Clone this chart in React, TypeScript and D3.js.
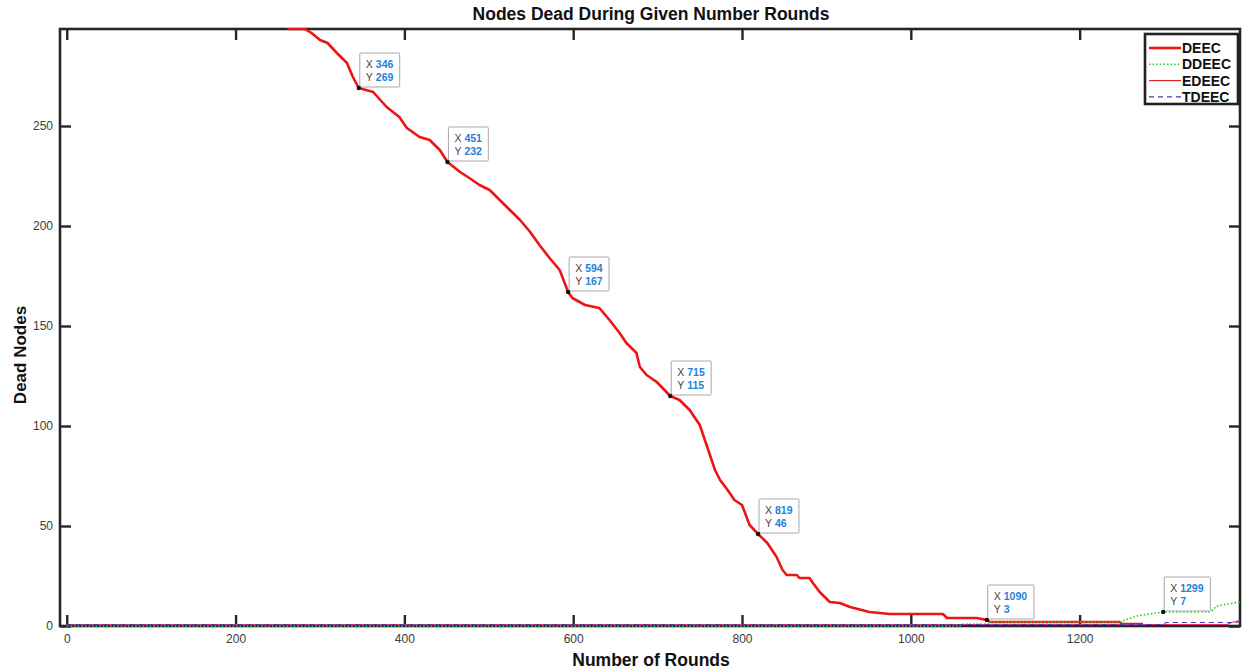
import * as d3 from 'd3';
import React, { useRef, useEffect } from 'react';

// DEEC curve as [round, dead nodes]
const deecRounds = [0, 262, 263, 282, 290, 300, 309, 320, 332, 339, 346, 363, 379, 394, 403, 418, 430, 442, 451, 466, 477, 489, 501, 513, 525, 537, 549, 560, 572, 584, 594, 599, 614, 631, 643, 655, 663, 675, 679, 687, 699, 715, 726, 738, 750, 756, 762, 768, 774, 783, 791, 800, 809, 819, 830, 841, 848, 853, 865, 868, 880, 884, 892, 904, 916, 928, 951, 975, 1038, 1043, 1078, 1090, 1094, 1248, 1250, 1275];
const deecValues = [300, 300, 298.5, 298.5, 296.5, 293, 291.5, 286.5, 281.5, 274.5, 269, 267, 259.5, 254.5, 249, 244.5, 243, 238, 232, 227, 224, 220.5, 218, 213, 208, 203, 197, 190.5, 184, 178, 167, 164, 160.5, 159, 153, 146.5, 141.5, 136.5, 129.5, 125.5, 122, 115, 113, 108, 100.5, 93, 85.5, 78, 73, 68, 63, 60.5, 50.5, 46, 41.5, 34.5, 28, 25.5, 25.5, 24, 24, 21.5, 17, 12, 11.5, 9.5, 7, 6, 6, 4, 4, 3, 2, 2, 1, 1];

const ddeecRounds = [0, 1058, 1060, 1092, 1094, 1248, 1254, 1261, 1268, 1283, 1299, 1354, 1358, 1362, 1375, 1390];
const ddeecValues = [0, 0, 1, 1, 2, 2, 3, 4, 5, 6, 7, 7, 8, 10, 11, 12];

const edeecRounds = [0, 1375, 1380, 1390];
const edeecValues = [0, 0, 1, 2];

const tdeecRounds = [0, 1300, 1302, 1386, 1390];
const tdeecValues = [0, 0, 1, 1, 2];

const tipRounds = [346, 451, 594, 715, 819, 1090, 1299];
const tipValues = [269, 232, 167, 115, 46, 3, 7];

const xTicks = [0, 200, 400, 600, 800, 1000, 1200];
const yTicks = [0, 50, 100, 150, 200, 250];

const seriesNames = ['DEEC', 'DDEEC', 'EDEEC', 'TDEEC'];

const W = 1243, H = 670;
const left = 60, right = 1240, top = 29, bottom = 626;
const font = '"Liberation Sans", Arial, sans-serif';

const styles = [
    { color: '#ee1414', width: 2.6, dash: null },
    { color: '#2fd12f', width: 1.6, dash: '1.6,2' },
    { color: '#e0306a', width: 1.1, dash: null },
    { color: '#4a3ab8', width: 1.1, dash: '5,4' },
];

function App() {
    const ref = useRef(null);

    useEffect(() => {
        const svg = d3.select(ref.current);
        svg.selectAll('*').remove();

        const x = d3.scaleLinear().domain([-8, 1390]).range([left, right]);
        const y = d3.scaleLinear().domain([0, 298.5]).range([bottom, top]);

        svg.append('rect').attr('width', W).attr('height', H).attr('fill', '#fff');

        svg.append('defs').append('clipPath').attr('id', 'plotclip')
            .append('rect')
            .attr('x', left).attr('y', top - 1)
            .attr('width', right - left).attr('height', bottom - top + 2);

        // axes, MATLAB style ticks pointing in
        const styleAxis = (g) => {
            g.select('.domain').remove();
            g.selectAll('.tick line').attr('stroke', '#262626').attr('stroke-width', 2.4);
            g.selectAll('.tick text').attr('fill', '#3a3a3a').style('font-size', '12px').style('font-family', font);
        };

        svg.append('g').attr('transform', `translate(0,${bottom})`)
            .call(d3.axisBottom(x).tickValues(xTicks).tickSizeInner(-11).tickSizeOuter(0).tickPadding(8).tickFormat(d3.format('d')))
            .call(styleAxis);
        svg.append('g').attr('transform', `translate(0,${top})`)
            .call(d3.axisTop(x).tickValues(xTicks).tickSizeInner(-11).tickSizeOuter(0).tickFormat(() => ''))
            .call(styleAxis);
        svg.append('g').attr('transform', `translate(${left},0)`)
            .call(d3.axisLeft(y).tickValues(yTicks).tickSizeInner(-11).tickSizeOuter(0).tickPadding(7))
            .call(styleAxis);
        svg.append('g').attr('transform', `translate(${right},0)`)
            .call(d3.axisRight(y).tickValues(yTicks).tickSizeInner(-11).tickSizeOuter(0).tickFormat(() => ''))
            .call(styleAxis);

        svg.append('rect')
            .attr('x', left).attr('y', top)
            .attr('width', right - left).attr('height', bottom - top)
            .attr('fill', 'none').attr('stroke', '#262626').attr('stroke-width', 2.6);

        // lines
        const line = d3.line().x((d) => x(d[0])).y((d) => y(d[1]));
        const all = [
            [deecRounds, deecValues],
            [ddeecRounds, ddeecValues],
            [edeecRounds, edeecValues],
            [tdeecRounds, tdeecValues],
        ];
        const plot = svg.append('g').attr('clip-path', 'url(#plotclip)');
        all.forEach(([rs, vs], i) => {
            const pts = rs.map((r, j) => [r, vs[j]]);
            plot.append('path')
                .attr('d', line(pts))
                .attr('transform', i >= 2 ? 'translate(0,-1.5)' : null)
                .attr('fill', 'none')
                .attr('stroke', styles[i].color)
                .attr('stroke-width', styles[i].width)
                .attr('stroke-dasharray', styles[i].dash)
                .attr('stroke-linejoin', 'round');
        });

        // data tips
        tipRounds.forEach((r, i) => {
            const px = x(r), py = y(tipValues[i]);
            const digits = Math.max(String(r).length, String(tipValues[i]).length);
            const w = 21 + 6.3 * digits;
            const g = svg.append('g');
            g.append('rect')
                .attr('x', px + 1).attr('y', py - 35)
                .attr('width', w).attr('height', 34)
                .attr('fill', '#fff').attr('fill-opacity', 0.95)
                .attr('stroke', '#a8a8a8').attr('stroke-width', 1).attr('rx', 1);
            [['X', r, py - 20], ['Y', tipValues[i], py - 7]].forEach(([k, v, ty]) => {
                g.append('text').attr('x', px + 7).attr('y', ty)
                    .attr('fill', '#444').style('font-size', '10.5px').style('font-family', font)
                    .text(k);
                g.append('text').attr('x', px + 17).attr('y', ty)
                    .attr('fill', '#1f82d6').style('font-size', '10.5px').style('font-weight', 'bold').style('font-family', font)
                    .text(v);
            });
            g.append('circle').attr('cx', px).attr('cy', py).attr('r', 2.2).attr('fill', '#111');
        });

        // legend
        const lg = svg.append('g');
        lg.append('rect')
            .attr('x', 1145).attr('y', 34).attr('width', 93).attr('height', 70)
            .attr('fill', '#fff').attr('stroke', '#222').attr('stroke-width', 2.6);
        seriesNames.forEach((name, i) => {
            const ly = 48 + i * 16.3;
            lg.append('line')
                .attr('x1', 1149).attr('x2', 1181).attr('y1', ly).attr('y2', ly)
                .attr('stroke', i === 2 ? '#d81818' : styles[i].color)
                .attr('stroke-width', styles[i].width)
                .attr('stroke-dasharray', styles[i].dash);
            lg.append('text').attr('x', 1182).attr('y', ly + 5)
                .style('font-size', '14px').style('font-weight', 'bold').style('font-family', font)
                .attr('fill', '#111')
                .text(name);
        });

        // titles
        svg.append('text').attr('x', 651).attr('y', 20).attr('text-anchor', 'middle')
            .style('font-size', '17.5px').style('font-weight', 'bold').style('font-family', font)
            .attr('fill', '#111')
            .text('Nodes Dead During Given Number Rounds');
        svg.append('text').attr('x', 651).attr('y', 666).attr('text-anchor', 'middle')
            .style('font-size', '17.5px').style('font-weight', 'bold').style('font-family', font)
            .attr('fill', '#111')
            .text('Number of Rounds');
        svg.append('text').attr('transform', 'translate(26,355) rotate(-90)').attr('text-anchor', 'middle')
            .style('font-size', '17px').style('font-weight', 'bold').style('font-family', font)
            .attr('fill', '#111')
            .text('Dead Nodes');
    }, []);

    return (
        <div className="chart">
            <svg ref={ref} width={W} height={H} style={{ position: 'absolute', left: 0, top: 0 }}>
            </svg>
        </div>
    );
}

export default App;
